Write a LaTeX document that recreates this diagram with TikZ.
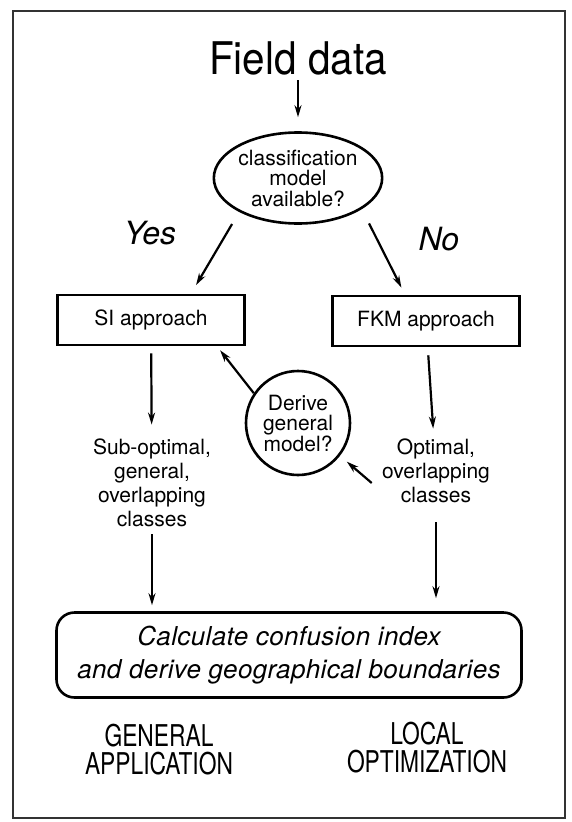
\documentclass[tikz,border=0pt]{standalone}
\usepackage{fontspec}
\setmainfont{TeX Gyre Heros}
\newfontfamily\widefont[FakeStretch=0.9]{TeX Gyre Heros}
\newfontfamily\narrowfont[FakeStretch=0.76]{TeX Gyre Heros}
\usetikzlibrary{shapes.geometric,arrows.meta}

\begin{document}
\begin{tikzpicture}[x=1pt, y=1pt, ->, >={Stealth[length=12pt,width=7pt]}, line width=2.2pt, node distance=120pt,
    box node/.style={rectangle, draw, line width=2.6pt, minimum width=187, minimum height=50, font=\fontsize{21}{24}\selectfont},
    text node/.style={align=center, font=\fontsize{21}{24}\selectfont},
    answer node/.style={font=\fontsize{32}{36}\selectfont\itshape},
    result node/.style={align=center, font=\narrowfont\fontsize{30}{28}\selectfont}]
    \useasboundingbox (-298,58) rectangle (274,-764);
    \draw [-, line width=2pt, black!80] (-285,47) rectangle (267,-760);

    \node [text node, font=\widefont\fontsize{45}{50}\selectfont](1) []{Field data};
    \node [ellipse, draw, line width=2.6pt, minimum width=165, minimum height=91, inner sep=0, text node, font=\fontsize{21}{20.5}\selectfont](2) [below of=1]{classification\\model\\available?};

    \node [answer node](11) [below of=2, xshift=-148, yshift=65]{Yes};
    \node [answer node](12) [below of=2, xshift=141, yshift=59]{No};

    \node [box node](3) [below of=2, xshift=-147, yshift=-22]{SI approach};
    \node [box node](4) [below of=2, xshift=128, yshift=-23]{FKM approach};

    \node [circle, draw, line width=2.6pt, minimum size=104, inner sep=0, text node, font=\fontsize{21}{20.5}\selectfont](5) [below of=2, yshift=-125]{Derive\\general\\model?};

    \node [text node](6) [below of=3, xshift=1, yshift=-43]{Sub-optimal,\\general,\\overlapping\\classes};
    \node [text node](7) [below of=4, xshift=10, yshift=-30]{Optimal,\\overlapping\\classes};

    \node [rectangle, rounded corners=18, draw, line width=2.6pt, minimum width=465, minimum height=85, align=center, font=\fontsize{26}{33}\selectfont\itshape\addfontfeature{LetterSpace=1.5}](8) [below of=5, xshift=-9, yshift=-112]{Calculate confusion index\\and derive geographical boundaries};

    \node [result node](9) [below of=8, xshift=-130, yshift=25]{GENERAL\\APPLICATION};
    \node [result node](10) [below of=8, xshift=138, yshift=27]{LOCAL\\OPTIMIZATION};

    \path
        (1) edge [shorten <=1, shorten >=14] (2)
        (2.210) edge [shorten <=14, shorten >=10] ([xshift=40]3.north)
        (2.334) edge [shorten <=16, shorten >=8] ([xshift=-21]4.north)

        (3) edge [shorten <=7, shorten >=10] (6)
        (4) edge [shorten <=8, shorten >=6] (7)

        (5.146) edge [shorten >=5] ([xshift=66]3.south)
        ([xshift=-6, yshift=-12]7.west) edge [shorten >=9] (5.322)

        (6) edge [shorten <=3, shorten >=6] (6 |- 8.north)
        (7) edge [shorten <=15, shorten >=13] (7 |- 8.north)
        ;
\end{tikzpicture}
\end{document}
